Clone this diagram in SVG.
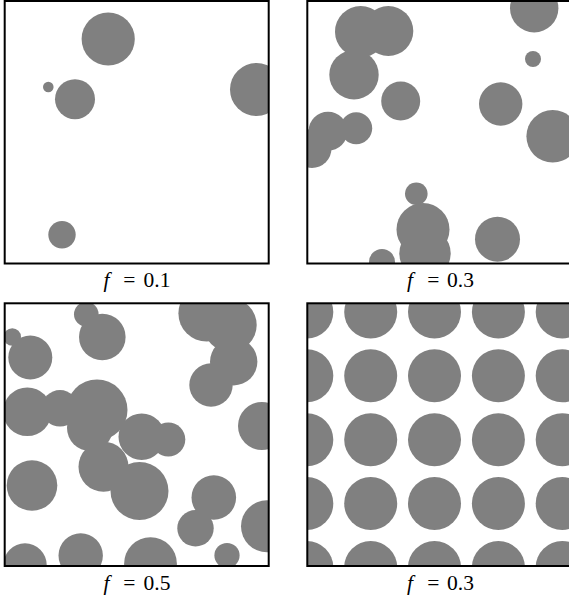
<svg xmlns="http://www.w3.org/2000/svg" width="569" height="603" viewBox="0 0 569 603">
<style>
.frame{fill:none;stroke:#000;stroke-width:2}
.p circle{fill:#808080}
.lbl{font-family:"Liberation Serif","Times New Roman",serif;font-size:21.5px;fill:#000}
.it{font-style:italic}
</style>
<defs>
<clipPath id="c1"><rect x="4.7" y="1" width="264" height="262.5"/></clipPath>
<clipPath id="c2"><rect x="307.3" y="1" width="264" height="262.5"/></clipPath>
<clipPath id="c3"><rect x="4.7" y="303.3" width="264" height="262.7"/></clipPath>
<clipPath id="c4"><rect x="307.3" y="303.3" width="264" height="262.7"/></clipPath>
</defs>
<rect width="569" height="603" fill="#fff"/>

<g id="panel1">
<g class="p" clip-path="url(#c1)">
<circle cx="108.2" cy="39" r="26.6"/>
<circle cx="48.3" cy="87" r="5.3"/>
<circle cx="75" cy="99.2" r="20"/>
<circle cx="256.5" cy="89.5" r="26.5"/>
<circle cx="62" cy="234.7" r="13.7"/>
</g>
<rect class="frame" x="4.7" y="1" width="264" height="262.5"/>
<text class="lbl" y="287"><tspan class="it" x="103.5">f</tspan><tspan x="123.2">=</tspan><tspan x="143.5">0.1</tspan></text>
</g>

<g id="panel2">
<g class="p" clip-path="url(#c2)">
<circle cx="360.7" cy="31.7" r="25.7"/>
<circle cx="388.3" cy="31" r="25"/>
<circle cx="354" cy="74.7" r="24.7"/>
<circle cx="400.7" cy="101" r="19.5"/>
<circle cx="534.2" cy="8.2" r="24.2"/>
<circle cx="533" cy="59" r="8"/>
<circle cx="500.7" cy="104" r="21.7"/>
<circle cx="552.7" cy="136.3" r="26.3"/>
<circle cx="328" cy="131.2" r="19.5"/>
<circle cx="356.2" cy="128.2" r="16"/>
<circle cx="312" cy="148.5" r="19.5"/>
<circle cx="416.3" cy="193.8" r="11.3"/>
<circle cx="423" cy="229.4" r="26.5"/>
<circle cx="425" cy="253.3" r="25.7"/>
<circle cx="382" cy="262" r="13"/>
<circle cx="497.5" cy="239.2" r="22.5"/>
</g>
<rect class="frame" x="307.3" y="1" width="264" height="262.5"/>
<text class="lbl" y="287"><tspan class="it" x="407">f</tspan><tspan x="427.2">=</tspan><tspan x="447">0.3</tspan></text>
</g>

<g id="panel3">
<g class="p" clip-path="url(#c3)">
<circle cx="86.3" cy="314.3" r="12.3"/>
<circle cx="102.3" cy="337" r="23.3"/>
<circle cx="12.3" cy="337" r="8.7"/>
<circle cx="30.3" cy="357.5" r="22"/>
<circle cx="206.7" cy="313.3" r="28.3"/>
<circle cx="230" cy="325" r="26.7"/>
<circle cx="233.7" cy="361.7" r="23.7"/>
<circle cx="211" cy="385" r="21.7"/>
<circle cx="27.3" cy="411.7" r="24.3"/>
<circle cx="60" cy="408.3" r="18.3"/>
<circle cx="97" cy="410" r="30.5"/>
<circle cx="90" cy="428" r="23"/>
<circle cx="141.7" cy="436.7" r="23.2"/>
<circle cx="168.3" cy="439.5" r="17"/>
<circle cx="262" cy="426" r="24"/>
<circle cx="32" cy="485.5" r="25.3"/>
<circle cx="103.5" cy="466.7" r="25"/>
<circle cx="139.5" cy="491" r="29"/>
<circle cx="213.8" cy="497.5" r="22.3"/>
<circle cx="195.5" cy="528.3" r="18.2"/>
<circle cx="267" cy="526.3" r="26"/>
<circle cx="25" cy="565" r="21.7"/>
<circle cx="80.7" cy="555.5" r="22.2"/>
<circle cx="150.5" cy="563.7" r="26.4"/>
<circle cx="227" cy="555.5" r="12.6"/>
</g>
<rect class="frame" x="4.7" y="303.3" width="264" height="262.7"/>
<text class="lbl" y="590"><tspan class="it" x="103.5">f</tspan><tspan x="123.2">=</tspan><tspan x="143.5">0.5</tspan></text>
</g>

<g id="panel4">
<g class="p" clip-path="url(#c4)">
<circle cx="306.8" cy="312" r="26.5"/><circle cx="370.7" cy="312" r="26.5"/><circle cx="434.5" cy="312" r="26.5"/><circle cx="498.4" cy="312" r="26.5"/><circle cx="562.2" cy="312" r="26.5"/>
<circle cx="306.8" cy="375.8" r="26.5"/><circle cx="370.7" cy="375.8" r="26.5"/><circle cx="434.5" cy="375.8" r="26.5"/><circle cx="498.4" cy="375.8" r="26.5"/><circle cx="562.2" cy="375.8" r="26.5"/>
<circle cx="306.8" cy="439.7" r="26.5"/><circle cx="370.7" cy="439.7" r="26.5"/><circle cx="434.5" cy="439.7" r="26.5"/><circle cx="498.4" cy="439.7" r="26.5"/><circle cx="562.2" cy="439.7" r="26.5"/>
<circle cx="306.8" cy="503.5" r="26.5"/><circle cx="370.7" cy="503.5" r="26.5"/><circle cx="434.5" cy="503.5" r="26.5"/><circle cx="498.4" cy="503.5" r="26.5"/><circle cx="562.2" cy="503.5" r="26.5"/>
<circle cx="306.8" cy="567.4" r="26.5"/><circle cx="370.7" cy="567.4" r="26.5"/><circle cx="434.5" cy="567.4" r="26.5"/><circle cx="498.4" cy="567.4" r="26.5"/><circle cx="562.2" cy="567.4" r="26.5"/>
</g>
<rect class="frame" x="307.3" y="303.3" width="264" height="262.7"/>
<text class="lbl" y="590"><tspan class="it" x="407">f</tspan><tspan x="427.2">=</tspan><tspan x="447">0.3</tspan></text>
</g>
</svg>
